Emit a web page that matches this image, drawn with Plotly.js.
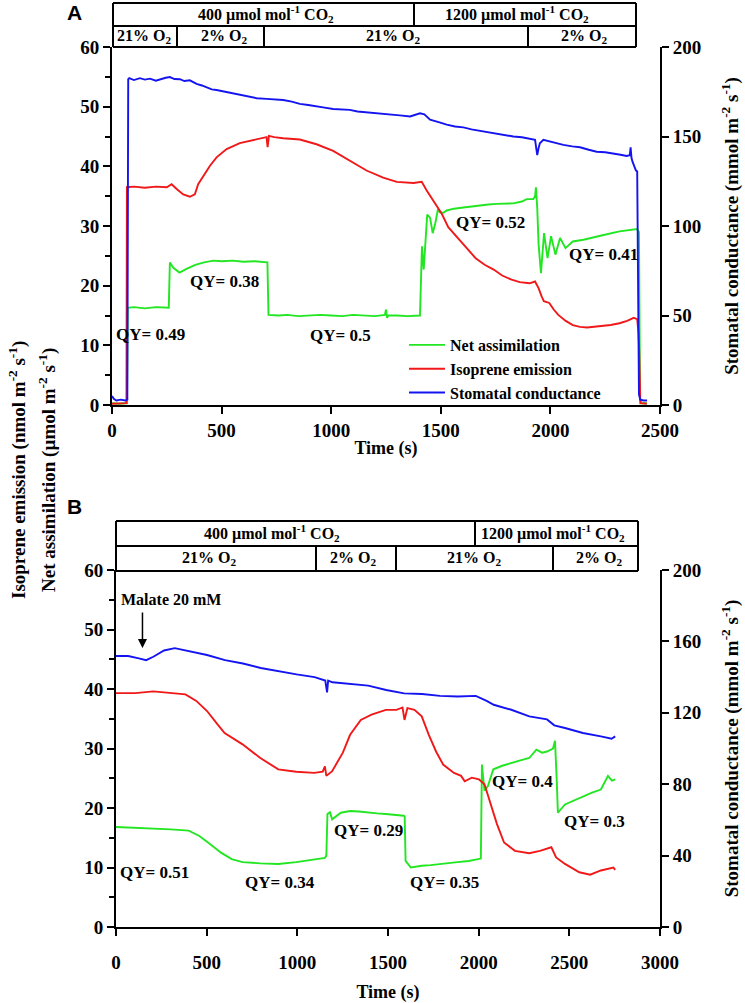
<!DOCTYPE html>
<html><head><meta charset="utf-8">
<script src="https://cdn.plot.ly/plotly-3.0.1.min.js"></script>
<style>html,body{margin:0;padding:0;background:#fff;}</style>
</head><body>
<div id="chart" style="width:745px;height:1003px;"></div>
<script>
// ---------------- DATA ----------------
// Panel A
const timeA_net = [0,30,60,68,72,100,150,200,259,264,280,308,340,380,420,463,500,550,600,650,709,714,760,800,850,900,950,1000,1050,1100,1150,1200,1245,1250,1255,1260,1300,1350,1405,1410,1414,1422,1438,1451,1463,1475,1487,1496,1512,1527,1560,1603,1640,1679,1717,1755,1793,1831,1870,1892,1922,1930,1934,1940,1946,1957,1971,1987,2003,2023,2044,2069,2102,2151,2233,2315,2396,2404,2409,2440];
const netA      = [0.3,0.2,0.3,0.3,16.3,16.4,16.2,16.4,16.3,23.9,23.0,22.2,22.8,23.5,23.9,24.2,24.1,24.2,24.0,24.1,23.9,15.1,15.0,15.1,14.9,15.0,15.1,15.0,14.9,15.1,15.0,14.9,15.1,16.0,14.6,15.0,15.0,14.9,15.0,22.0,26.6,22.7,31.9,31.4,28.8,30.5,32.8,32.3,32.2,32.6,32.9,33.1,33.3,33.4,33.6,33.7,33.7,33.8,34.1,34.5,34.5,35.0,36.5,33.0,27.0,22.1,28.8,24.6,28.3,25.2,28.0,26.3,27.4,27.7,28.4,29.1,29.5,29.0,0.3,0.3];

const timeA_iso = [0,60,66,68,100,150,200,250,272,295,325,355,378,393,416,447,477,523,583,644,705,710,716,740,781,857,933,1009,1085,1161,1237,1299,1375,1413,1435,1463,1505,1534,1577,1620,1659,1700,1741,1780,1823,1860,1905,1930,1946,1960,1970,1995,2015,2036,2070,2102,2135,2167,2200,2233,2275,2315,2350,2380,2396,2402,2405,2410,2413,2440];
const isoA      = [0.2,0.2,0.3,36.5,36.6,36.4,36.6,36.5,37.0,36.2,35.3,34.9,35.3,37.0,38.4,40.1,41.5,42.9,43.9,44.4,44.9,43.2,45.1,44.9,44.7,44.5,43.7,42.6,40.9,39.3,38.1,37.4,37.2,37.4,36.0,34.4,32.0,29.8,28.0,26.3,24.6,23.5,22.7,21.7,21.0,20.6,20.4,20.7,19.6,18.2,17.4,17.1,16.0,15.1,14.1,13.4,13.1,13.0,13.1,13.2,13.4,13.7,14.1,14.6,14.4,12.0,9.2,1.0,0.3,0.2];

const timeA_gs = [0,8,20,40,60,70,74,79,100,127,150,173,200,219,245,264,285,310,330,355,386,410,431,455,477,510,553,590,629,660,705,740,781,820,857,895,933,970,1009,1045,1085,1120,1161,1200,1237,1275,1313,1360,1405,1425,1451,1490,1527,1565,1603,1640,1679,1717,1755,1793,1831,1870,1907,1930,1936,1940,1946,1952,1968,2000,2059,2100,2135,2175,2211,2250,2287,2320,2348,2362,2366,2370,2375,2390,2396,2400,2404,2410,2425,2441];
const gsA      = [5,3.5,2.5,3,2.5,3,182,182.6,181.5,182.6,181.8,182.3,181.2,182,182.8,183.2,182.1,182,181,181.4,179.4,178.5,177.6,176.3,176,175.2,174.2,173.1,172,171.4,171,170.8,170.4,169.5,168.2,167.6,166.7,166.1,165.4,165.3,164.9,164,163.6,163.1,162.6,162.3,161.8,161.2,163,162.4,159.4,158,156.6,155.6,155.1,154,153.2,152.3,151.5,150.8,150,149.6,148.9,148.1,143,139.6,143.5,146.2,148.1,147,145.3,144.5,144,142.6,141.5,141.2,140.6,139.8,139.1,139.5,144,138,135.8,131.1,130.5,70,6,3,2.5,2.5];

// Panel B
const timeB_net = [0,105,204,302,401,460,520,579,638,698,796,895,994,1093,1152,1160,1166,1180,1192,1240,1291,1340,1389,1440,1488,1540,1587,1592,1597,1626,1686,1735,1785,1835,1883,1945,2002,2012,2018,2032,2051,2081,2130,2180,2230,2279,2318,2350,2377,2410,2421,2430,2437,2476,2525,2575,2625,2674,2713,2735,2753];
const netB      = [16.8,16.7,16.6,16.4,16.2,15.3,13.9,12.5,11.4,10.9,10.7,10.6,10.9,11.3,11.6,12.0,19.0,19.3,18.1,19.2,19.5,19.4,19.2,19.1,19.0,18.9,18.7,18.6,11.1,10.0,10.3,10.4,10.6,10.8,10.9,11.1,11.4,11.5,27.3,22.9,23.7,26.5,27.1,27.6,28.0,28.4,29.8,29.3,29.5,30.0,31.3,25.0,19.2,20.6,21.3,22.0,22.6,23.1,25.4,24.6,24.8];

const timeB_iso = [0,107,206,304,383,443,502,561,599,698,796,895,994,1093,1140,1152,1160,1192,1251,1291,1350,1409,1488,1547,1580,1591,1607,1646,1686,1725,1765,1804,1864,1903,1923,1962,2002,2032,2061,2101,2140,2200,2279,2338,2401,2427,2476,2555,2615,2674,2743,2753];
const isoB      = [39.3,39.3,39.6,39.3,39.1,38.0,36.3,34.0,32.6,30.7,28.4,26.5,26.1,25.9,26.1,27.0,25.4,26.2,29.3,32.3,34.8,35.7,36.5,36.5,36.9,34.8,36.8,36.5,35.4,32.3,29.5,27.3,25.9,25.4,24.5,25.1,24.8,24.0,21.2,17.3,14.2,12.8,12.4,12.8,13.4,11.7,10.6,9.2,8.8,9.5,10.0,9.6];

const timeB_gs = [0,67,126,166,206,265,324,383,443,502,601,700,798,897,996,1095,1154,1164,1170,1194,1292,1391,1490,1589,1688,1787,1885,1984,2044,2083,2180,2279,2377,2417,2476,2575,2674,2733,2753];
const gsB      = [151.8,151.8,150.5,149.5,151.4,154.9,156.2,154.9,153.3,152.4,149.5,147.6,145.1,143.2,141.5,140.0,138.1,131.4,138.0,137.1,136.2,135.2,132.8,130.9,130.5,129.5,129.1,129.5,126.7,124.5,121.7,118.0,116.3,113.0,111.5,108.7,106.8,105.5,106.8];

// Labels
const seriesNames = ['Net assimilation', 'Isoprene emission', 'Stomatal conductance'];
const qyA_text = ['QY= 0.49','QY= 0.38','QY= 0.5','QY= 0.52','QY= 0.41'];
const qyA_t    = [175, 511, 1043, 1728, 2244];
const qyA_v    = [11.8, 20.7, 11.6, 30.6, 25.2];
const qyB_text = ['QY= 0.51','QY= 0.34','QY= 0.29','QY= 0.35','QY= 0.4','QY= 0.3'];
const qyB_t    = [215, 905, 1393, 1812, 2243, 2640];
const qyB_v    = [9.1, 7.5, 16.3, 7.5, 24.4, 17.8];
const co2Labels = ['400 µmol mol<sup>-1</sup> CO<sub>2</sub>', '1200 µmol mol<sup>-1</sup> CO<sub>2</sub>'];
const o2LabelsA = ['21% O<sub>2</sub>', '2% O<sub>2</sub>', '21% O<sub>2</sub>', '2% O<sub>2</sub>'];
const o2LabelsB = ['21% O<sub>2</sub>', '2% O<sub>2</sub>', '21% O<sub>2</sub>', '2% O<sub>2</sub>'];
const malateText = 'Malate 20 mM';
const malateT = 146, malateFrom = 53.1, malateTo = 46.9;

// ---------------- LAYOUT ----------------
const W = 745, H = 1003;
const fx = p => p / W;
const fy = p => 1 - p / H;
const SERIF = 'Liberation Serif, Times New Roman, serif';
const GREEN = '#22e622', RED = '#f01818', BLUE = '#1414f0';
const tfont = {family: SERIF, size: 19, color: 'black', weight: 'bold'};
const xtfont = {family: SERIF, size: 18, color: 'black', weight: 'bold'};

function line(x, y, xa, ya, color, name, show) {
  return {x: x, y: y, xaxis: xa, yaxis: ya, type: 'scatter', mode: 'lines',
          line: {color: color, width: 1.9}, name: name, showlegend: show, hoverinfo: 'skip'};
}
const traces = [
  line(timeA_net, netA, 'x', 'y', GREEN, seriesNames[0], true),
  line(timeA_iso, isoA, 'x', 'y', RED, seriesNames[1], true),
  line(timeA_gs, gsA, 'x', 'y2', BLUE, seriesNames[2], true),
  line(timeB_net, netB, 'x2', 'y3', GREEN, seriesNames[0], false),
  line(timeB_iso, isoB, 'x2', 'y3', RED, seriesNames[1], false),
  line(timeB_gs, gsB, 'x2', 'y4', BLUE, seriesNames[2], false)
];

function xAx(dom, rng, anchor, lblOff, tOff) {
  return {domain: dom, range: rng, dtick: 500, tick0: 0, anchor: anchor,
    showline: true, linewidth: 2, linecolor: 'black', ticks: 'outside', ticklen: 7, tickwidth: 2, tickcolor: 'black',
    showgrid: false, zeroline: false, tickfont: tfont, automargin: false, ticklabelstandoff: lblOff,
    title: {text: 'Time (s)', font: xtfont, standoff: tOff}};
}
function yLeft(dom, anchor) {
  return {domain: dom, range: [0, 60], dtick: 10, tick0: 0, anchor: anchor,
    showline: true, linewidth: 2, linecolor: 'black', ticks: 'outside', ticklen: 7, tickwidth: 2, tickcolor: 'black',
    minor: {dtick: 5, ticks: 'outside', ticklen: 5, tickwidth: 2, tickcolor: 'black'},
    showgrid: false, zeroline: false, tickfont: tfont, automargin: false};
}
function yRight(over, anchor, dt) {
  return {overlaying: over, side: 'right', anchor: anchor, range: [0, 200], dtick: dt, tick0: 0,
    showline: true, linewidth: 2, linecolor: 'black', ticks: 'outside', ticklen: 7, tickwidth: 2, tickcolor: 'black',
    showgrid: false, zeroline: false, tickfont: tfont, automargin: false,
    title: {text: 'Stomatal conductance (mmol m<sup>-2</sup> s<sup>-1</sup>)', font: {family: SERIF, size: 19, color: 'black', weight: 'bold'}, standoff: 24}};
}

const shapes = [];
function seg(x0, y0, x1, y1) {
  shapes.push({type: 'line', xref: 'paper', yref: 'paper', x0: fx(x0), y0: fy(y0), x1: fx(x1), y1: fy(y1),
               line: {color: 'black', width: 2}});
}
function header(xl, xr, yt, ym, yb, d1, d2) {
  seg(xl, yt, xr, yt); seg(xl, ym, xr, ym); seg(xl, yb, xr, yb);
  seg(xl, yt, xl, yb); seg(xr, yt, xr, yb);
  d1.forEach(d => seg(d, yt, d, ym));
  d2.forEach(d => seg(d, ym, d, yb));
}
header(113, 636, 3, 26, 47, [414], [177, 264, 528]);
header(116, 638, 521, 546, 571, [475], [316, 396, 553]);

const hfont = {family: SERIF, size: 16, color: 'black', weight: 'bold'};
const ann = [];
function ptext(t, x, y, font, extra) {
  ann.push(Object.assign({text: t, xref: 'paper', yref: 'paper', x: fx(x), y: fy(y),
    showarrow: false, font: font, xanchor: 'center', yanchor: 'middle'}, extra || {}));
}
// header texts
ptext(co2Labels[0], 266, 14, hfont); ptext(co2Labels[1], 517, 14, hfont);
[144, 224, 393, 584].forEach((x, i) => ptext(o2LabelsA[i], x, 36, hfont));
ptext(co2Labels[0], 272, 533, hfont); ptext(co2Labels[1], 553, 533, hfont);
[209, 353, 474, 599].forEach((x, i) => ptext(o2LabelsB[i], x, 558, hfont));
// panel letters
ptext('A', 74, 12.5, {family: 'Liberation Sans, Arial, sans-serif', size: 21, color: 'black', weight: 'bold'});
ptext('B', 74, 506.5, {family: 'Liberation Sans, Arial, sans-serif', size: 21, color: 'black', weight: 'bold'});
// shared left titles
const ltf = {family: SERIF, size: 19, color: 'black', weight: 'bold'};
ptext('Isoprene emission (nmol m<sup>-2</sup> s<sup>-1</sup>)', 17, 470, ltf, {textangle: -90});
ptext('Net assimilation (µmol m<sup>-2</sup> s<sup>-1</sup>)', 47, 470, ltf, {textangle: -90});
// QY labels
const qfont = {family: SERIF, size: 17, color: 'black', weight: 'bold'};
qyA_text.forEach((t, i) => ann.push({text: t, xref: 'x', yref: 'y', x: qyA_t[i], y: qyA_v[i], showarrow: false, font: qfont}));
qyB_text.forEach((t, i) => ann.push({text: t, xref: 'x2', yref: 'y3', x: qyB_t[i], y: qyB_v[i], showarrow: false, font: qfont}));
// Malate
ann.push({text: malateText, xref: 'x2', yref: 'y3', x: 18, y: 55.0, xanchor: 'left', showarrow: false,
          font: {family: SERIF, size: 16, color: 'black', weight: 'bold'}});
ann.push({text: '', xref: 'x2', yref: 'y3', x: malateT, y: malateTo, axref: 'x2', ayref: 'y3', ax: malateT, ay: malateFrom,
          showarrow: true, arrowhead: 2, arrowsize: 1.2, arrowwidth: 1.5, arrowcolor: 'black'});

const layout = {
  width: W, height: H, margin: {l: 0, r: 0, t: 0, b: 0},
  paper_bgcolor: 'white', plot_bgcolor: 'rgba(0,0,0,0)',
  font: {family: SERIF, size: 18, color: 'black'},
  showlegend: true,
  legend: {x: fx(404), y: fy(328), xanchor: 'left', yanchor: 'top', bgcolor: 'rgba(0,0,0,0)',
           font: {family: SERIF, size: 16, color: 'black', weight: 'bold'}, itemwidth: 36, tracegroupgap: 0},
  xaxis: xAx([fx(112), fx(660)], [0, 2500], 'y', 0, 2),
  yaxis: yLeft([fy(405), fy(47)], 'x'),
  yaxis2: yRight('y', 'x', 50),
  xaxis2: xAx([fx(116), fx(660)], [0, 3000], 'y3', 10, 14),
  yaxis3: yLeft([fy(927), fy(570)], 'x2'),
  yaxis4: yRight('y3', 'x2', 40),
  shapes: shapes, annotations: ann
};
Plotly.newPlot('chart', traces, layout, {staticPlot: true, displayModeBar: false});
</script>
</body></html>
